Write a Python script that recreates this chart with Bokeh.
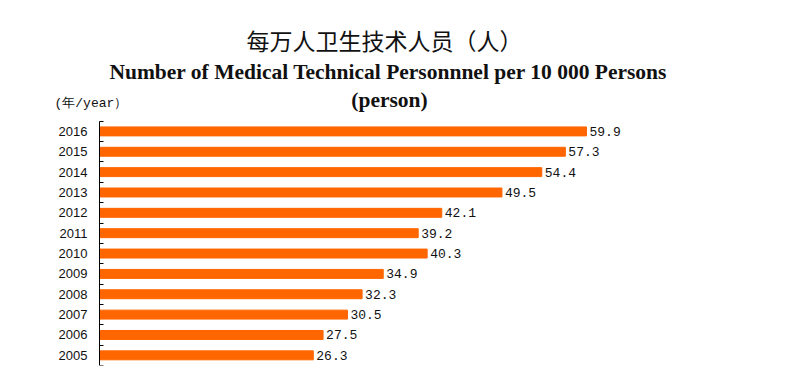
from bokeh.plotting import figure
from bokeh.models import Range1d, FixedTicker, Label, ColumnDataSource
from bokeh.core.properties import value
from bokeh.embed import file_html
from bokeh.resources import INLINE

years = [2005, 2006, 2007, 2008, 2009, 2010, 2011, 2012, 2013, 2014, 2015, 2016]
values = [26.3, 27.5, 30.5, 32.3, 34.9, 40.3, 39.2, 42.1, 49.5, 54.4, 57.3, 59.9]
value_labels = ["%.1f" % v for v in values]

title_cn = "每万人卫生技术人员（人）"
title_en = "Number of Medical Technical Personnnel per 10 000 Persons"
title_unit = "(person)"
axis_unit = "(年/year）"

src = ColumnDataSource(dict(year=years, value=values, label=value_labels))

p = figure(frame_width=730, frame_height=355,
           x_range=Range1d(-6.15, 83.64), y_range=Range1d(2004.5, 2021.94),
           output_backend="svg", toolbar_location=None,
           min_border_left=49, min_border_right=4, min_border_bottom=9, min_border_top=10)

p.hbar(y="year", left=0, right="value", height=0.44, color="#ff6600", source=src)
p.text(x="value", y="year", text="label", x_offset=3, text_baseline="middle",
       text_font=value("Liberation Mono"), text_font_size="13px", text_color="#111111", source=src)

p.xaxis.visible = False
p.xgrid.visible = False
p.ygrid.visible = False
p.outline_line_color = None

p.yaxis.fixed_location = 0
p.yaxis.bounds = (years[0] - 0.5, years[-1] + 0.5)
p.yaxis.ticker = FixedTicker(ticks=years, minor_ticks=[y - 0.5 for y in years] + [years[-1] + 0.5])
p.yaxis.major_tick_in = 0
p.yaxis.major_tick_out = 0
p.yaxis.minor_tick_in = 4
p.yaxis.minor_tick_out = 0
p.yaxis.minor_tick_line_color = "black"
p.yaxis.axis_line_color = "black"
p.yaxis.major_label_standoff = 12
p.yaxis.major_label_text_font = "Liberation Sans"
p.yaxis.major_label_text_font_size = "13px"
p.yaxis.major_label_text_color = "#111111"

def add_text(txt, sx, sy, font, size, style="normal", align="center"):
    p.add_layout(Label(x=sx, y=sy, x_units="screen", y_units="screen", text=txt,
                       text_font=font, text_font_size=size, text_font_style=style,
                       text_align=align, text_baseline="middle", text_color="#111111"))

add_text(title_cn, 335, 326, "Noto Sans CJK SC", "23px")
add_text(title_en, 339, 294, "Liberation Serif", "21.5px", "bold")
add_text(title_unit, 340, 266, "Liberation Serif", "21.5px", "bold")
add_text(axis_unit, 5, 262, "Liberation Mono", "13px", "normal", "left")

open("out.html", "w").write(file_html(p, INLINE))
